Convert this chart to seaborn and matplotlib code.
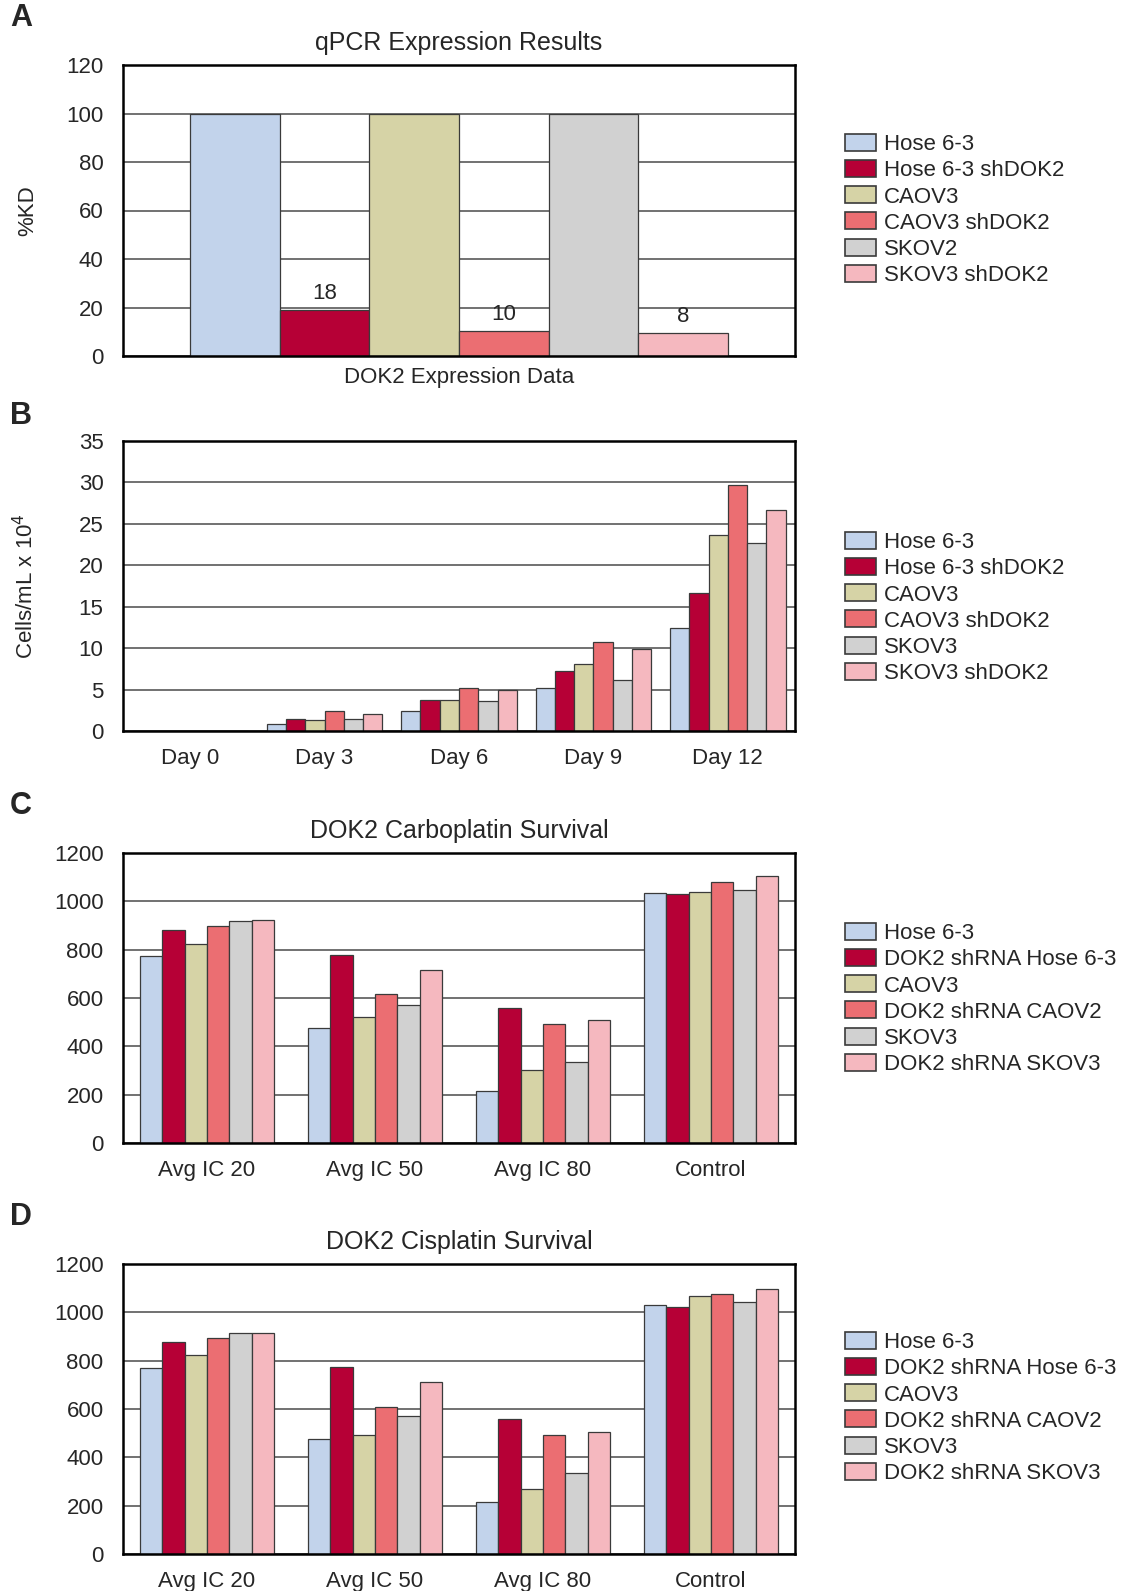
import numpy as np
import pandas as pd
import matplotlib
matplotlib.use('Agg')
import matplotlib.pyplot as plt
from matplotlib.patches import Patch
import seaborn as sns

# colours used by every panel (same order as the legends)
colors = ['#c2d3eb', '#b60036', '#d6d3a6', '#eb6e72', '#d1d1d1', '#f5b8bf']

# A - qPCR knockdown
a_lines = ['Hose 6-3', 'Hose 6-3 shDOK2', 'CAOV3', 'CAOV3 shDOK2', 'SKOV2', 'SKOV3 shDOK2']
a_kd = [100, 19, 100, 10.5, 100, 9.5]
a_labels = ['', '18', '', '10', '', '8']

# B - growth curves
b_lines = ['Hose 6-3', 'Hose 6-3 shDOK2', 'CAOV3', 'CAOV3 shDOK2', 'SKOV3', 'SKOV3 shDOK2']
b_days = ['Day 0', 'Day 3', 'Day 6', 'Day 9', 'Day 12']
b_hose = [0, 0.9, 2.4, 5.2, 12.4]
b_hose_sh = [0, 1.4, 3.8, 7.3, 16.6]
b_caov = [0, 1.33, 3.8, 8.1, 23.6]
b_caov_sh = [0, 2.45, 5.2, 10.75, 29.7]
b_skov = [0, 1.45, 3.6, 6.2, 22.7]
b_skov_sh = [0, 2.0, 4.9, 9.9, 26.7]

# C/D - drug survival
cd_lines = ['Hose 6-3', 'DOK2 shRNA Hose 6-3', 'CAOV3', 'DOK2 shRNA CAOV2', 'SKOV3', 'DOK2 shRNA SKOV3']
cd_doses = ['Avg IC 20', 'Avg IC 50', 'Avg IC 80', 'Control']
c_hose = [772, 475, 215, 1036]
c_hose_sh = [880, 776, 559, 1029]
c_caov = [824, 521, 304, 1038]
c_caov_sh = [896, 616, 494, 1081]
c_skov = [920, 572, 337, 1047]
c_skov_sh = [921, 714, 510, 1106]

d_hose = [769, 475, 216, 1029]
d_hose_sh = [876, 774, 558, 1021]
d_caov = [824, 492, 271, 1069]
d_caov_sh = [895, 607, 494, 1074]
d_skov = [916, 570, 335, 1041]
d_skov_sh = [913, 712, 503, 1095]

sns.set_style('white')
plt.rcParams['font.family'] = ['Liberation Sans', 'DejaVu Sans']

fig = plt.figure(figsize=(11.25, 15.91), dpi=100)
W, H = 1125.0, 1591.0


def make_axes(top, bottom, left=123, right=795):
    return fig.add_axes([left / W, 1 - bottom / H, (right - left) / W, (bottom - top) / H])


def long_table(cats, series, names):
    rows = []
    for name, vals in zip(names, series):
        for c, v in zip(cats, vals):
            rows.append({'cat': c, 'val': v, 'line': name})
    return pd.DataFrame(rows)


def draw_panel(ax, df, names, ymax, ystep, width):
    sns.barplot(data=df, x='cat', y='val', hue='line', hue_order=names,
                palette=colors, saturation=1, width=width, gap=0,
                edgecolor='#3a3a3a', linewidth=0.9, errorbar=None,
                legend=False, ax=ax)
    ax.set_ylim(0, ymax)
    ax.set_yticks(np.arange(0, ymax + 0.1, ystep))
    ax.yaxis.grid(True, color='#4a4a4a', lw=1.1)
    ax.set_axisbelow(True)
    for s in ax.spines.values():
        s.set_color('black')
        s.set_linewidth(1.8)
    ax.tick_params(axis='y', length=6, width=1, labelsize=16, pad=8)
    ax.tick_params(axis='x', length=0, labelsize=16, pad=12)
    ax.set_xlabel('')
    ax.set_ylabel('')


def add_legend(names, ycenter):
    handles = [Patch(facecolor=c, edgecolor='#3a3a3a', lw=1.2, label=n) for c, n in zip(colors, names)]
    fig.legend(handles=handles, loc='center left', bbox_to_anchor=(0.743, 1 - ycenter / H),
               frameon=False, fontsize=16, handlelength=1.4, handleheight=0.8,
               handletextpad=0.35, labelspacing=0.22, borderaxespad=0)


# A
ax_a = make_axes(65, 356)
df_a = long_table(['DOK2 Expression Data'], [[v] for v in a_kd], a_lines)
draw_panel(ax_a, df_a, a_lines, 120, 20, 0.8)
ax_a.tick_params(axis='x', pad=8)
for cont, lab in zip(ax_a.containers, a_labels):
    if lab:
        ax_a.bar_label(cont, labels=[lab], padding=4, fontsize=16)
ax_a.set_title('qPCR Expression Results', fontsize=18, pad=11)
ax_a.set_ylabel('%KD', fontsize=16)
ax_a.yaxis.set_label_coords(-0.126, 0.5)
add_legend(a_lines, 210)

# B
ax_b = make_axes(441, 731)
df_b = long_table(b_days, [b_hose, b_hose_sh, b_caov, b_caov_sh, b_skov, b_skov_sh], b_lines)
draw_panel(ax_b, df_b, b_lines, 35, 5, 0.86)
ax_b.set_ylabel('Cells/mL x 10$^4$', fontsize=16)
ax_b.yaxis.set_label_coords(-0.126, 0.5)
add_legend(b_lines, 608)

# C
ax_c = make_axes(853, 1143)
df_c = long_table(cd_doses, [c_hose, c_hose_sh, c_caov, c_caov_sh, c_skov, c_skov_sh], cd_lines)
draw_panel(ax_c, df_c, cd_lines, 1200, 200, 0.8)
ax_c.set_title('DOK2 Carboplatin Survival', fontsize=18, pad=11)
add_legend(cd_lines, 999)

# D
ax_d = make_axes(1264, 1554)
df_d = long_table(cd_doses, [d_hose, d_hose_sh, d_caov, d_caov_sh, d_skov, d_skov_sh], cd_lines)
draw_panel(ax_d, df_d, cd_lines, 1200, 200, 0.8)
ax_d.set_title('DOK2 Cisplatin Survival', fontsize=18, pad=11)
add_legend(cd_lines, 1408)

# panel letters
for letter, y in zip(['A', 'B', 'C', 'D'], [18, 416, 806, 1217]):
    fig.text(10 / W, 1 - y / H, letter, fontsize=22, fontweight='bold', va='center', ha='left')

fig.savefig('out.png', dpi=100, facecolor='white')
